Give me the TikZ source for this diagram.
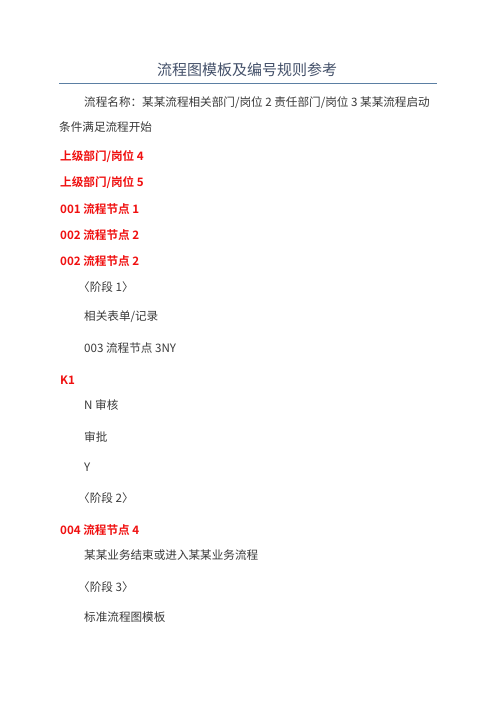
\documentclass[tikz,border=0pt]{standalone}
\usepackage{fontspec}
\newfontfamily\cjk{Noto Sans CJK SC}
\newfontfamily\cjkb{Noto Sans CJK SC Bold}
\definecolor{titlec}{HTML}{44516A}
\definecolor{rulec}{HTML}{5B7FA3}
\definecolor{bodyc}{HTML}{3A3A3A}
\definecolor{redc}{HTML}{F01010}
\tikzset{
  titletext/.style={inner sep=0pt, text=titlec, font=\cjk\fontsize{15}{17}\selectfont},
  bodytext/.style={inner sep=0pt, anchor=west, text=bodyc, font=\cjk\fontsize{11.6}{13}\selectfont},
  redtext/.style={inner sep=0pt, anchor=west, text=redc, font=\cjkb\fontsize{11.6}{13}\selectfont},
}
\begin{document}
\begin{tikzpicture}[x=1pt,y=-1pt]
\useasboundingbox[fill=white] (0,0) rectangle (496,702);
\node[titletext] (title) at (247,70) {流程图模板及编号规则参考};
\coordinate (rl) at (59,83);
\coordinate (rr) at (437,83);
\draw[rulec, line width=0.8pt] (rl) -- (rr);
\node[bodytext] (p1) at (84,103) {流程名称：某某流程相关部门/岗位 2 责任部门/岗位 3 某某流程启动};
\node[bodytext] (p2) at (59,127) {条件满足流程开始};
\node[redtext] (r1) at (60,157) {上级部门/岗位 4};
\node[redtext] (r2) at (60,183) {上级部门/岗位 5};
\node[redtext] (r3) at (60,209) {001 流程节点 1};
\node[redtext] (r4) at (60,235) {002 流程节点 2};
\node[redtext] (r5) at (60,261) {002 流程节点 2};
\node[bodytext] (b1) at (78,287) {〈阶段 1〉};
\node[bodytext] (b2) at (84,317) {相关表单/记录};
\node[bodytext] (b3) at (84,348) {003 流程节点 3NY};
\node[redtext] (k1) at (60,380) {K1};
\node[bodytext] (b4) at (84,405) {N 审核};
\node[bodytext] (b5) at (84,437) {审批};
\node[bodytext] (b6) at (84,467) {Y};
\node[bodytext] (b7) at (78,498) {〈阶段 2〉};
\node[redtext] (r6) at (60,530) {004 流程节点 4};
\node[bodytext] (b8) at (84,555) {某某业务结束或进入某某业务流程};
\node[bodytext] (b9) at (78,587) {〈阶段 3〉};
\node[bodytext] (b10) at (84,617) {标准流程图模板};
\end{tikzpicture}
\end{document}
